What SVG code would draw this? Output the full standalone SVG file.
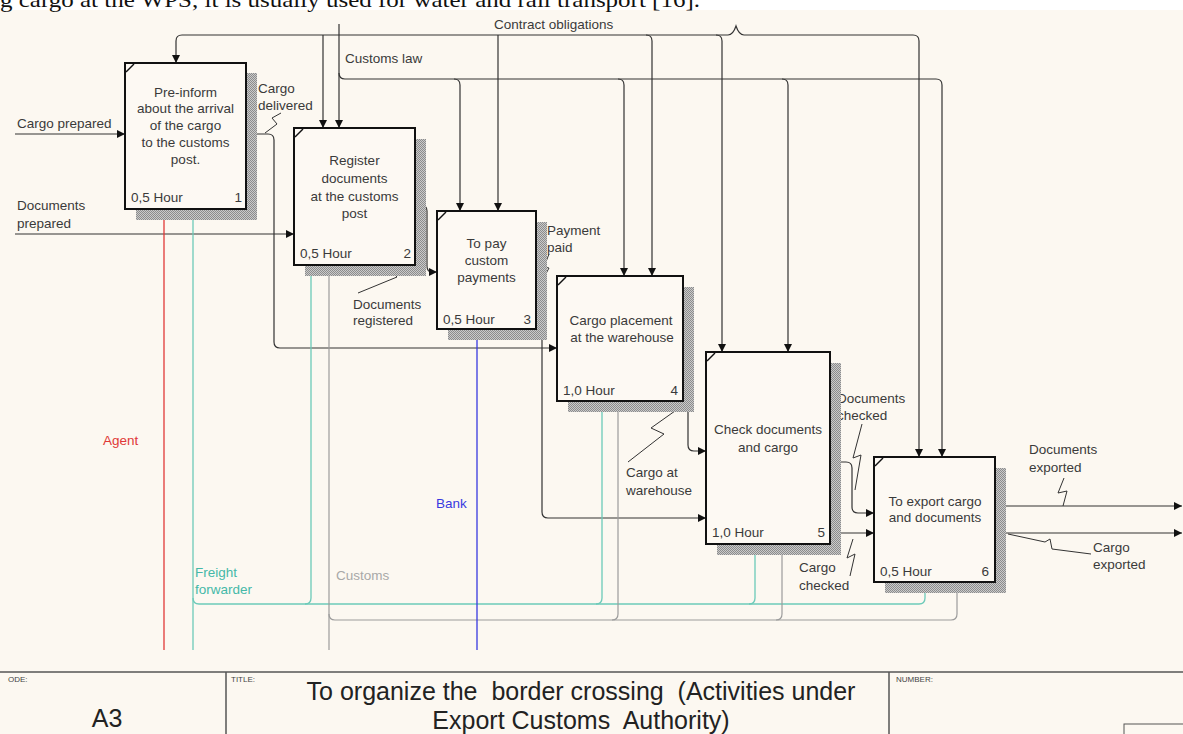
<svg xmlns="http://www.w3.org/2000/svg" width="1183" height="734" viewBox="0 0 1183 734">
<style>
.bg{fill:#fcf8f1}
.box{fill:#fdf9f3;stroke:#111;stroke-width:2}
.shadow{fill:url(#dots)}
.corner{stroke:#111;stroke-width:1.5;fill:none}
.bt{font-family:"Liberation Sans",Arial,sans-serif;font-size:13.5px;fill:#3a3a3a}
.lbl{font-family:"Liberation Sans",Arial,sans-serif;font-size:13.5px;fill:#3a3a3a}
.c{fill:none;stroke:#333;stroke-width:1.2}
.sq{fill:none;stroke:#333;stroke-width:1}
.red{fill:none;stroke:#e03838;stroke-width:1.3}
.teal{fill:none;stroke:#6ccab9;stroke-width:1.3}
.gray{fill:none;stroke:#9c9c9c;stroke-width:1.2}
.blue{fill:none;stroke:#3838e0;stroke-width:1.3}
.frame{fill:none;stroke:#555;stroke-width:1.5}
.small{font-family:"Liberation Sans",Arial,sans-serif;font-size:8px;fill:#444}
.title{font-family:"Liberation Sans",Arial,sans-serif;font-size:25px;fill:#222}
</style>
<defs>
<pattern id="dots" width="2" height="2" patternUnits="userSpaceOnUse">
<rect width="2" height="2" fill="#cacaca"/>
<rect width="1" height="1" fill="#8c8c8c"/>
<rect x="1" y="1" width="1" height="1" fill="#8c8c8c"/>
</pattern>
<marker id="ab" viewBox="0 0 10 10" refX="10" refY="5" markerWidth="9" markerHeight="8" markerUnits="userSpaceOnUse" orient="auto"><path d="M0,0 L10,5 L0,10 z" fill="#111"/></marker>
<marker id="ar" viewBox="0 0 10 10" refX="10" refY="5" markerWidth="9" markerHeight="8" markerUnits="userSpaceOnUse" orient="auto"><path d="M0,0 L10,5 L0,10 z" fill="#e02828"/></marker>
<marker id="at" viewBox="0 0 10 10" refX="10" refY="5" markerWidth="9" markerHeight="8" markerUnits="userSpaceOnUse" orient="auto"><path d="M0,0 L10,5 L0,10 z" fill="#3aaa9a"/></marker>
<marker id="ag" viewBox="0 0 10 10" refX="10" refY="5" markerWidth="9" markerHeight="8" markerUnits="userSpaceOnUse" orient="auto"><path d="M0,0 L10,5 L0,10 z" fill="#888"/></marker>
<marker id="abl" viewBox="0 0 10 10" refX="10" refY="5" markerWidth="9" markerHeight="8" markerUnits="userSpaceOnUse" orient="auto"><path d="M0,0 L10,5 L0,10 z" fill="#2828e0"/></marker>
</defs>

<rect x="0" y="0" width="1183" height="734" fill="#ffffff"/>
<rect class="bg" x="0" y="10" width="1183" height="724"/>
<text x="0" y="7" font-family="'Liberation Serif','Times New Roman',serif" font-size="21" fill="#111" textLength="700" lengthAdjust="spacingAndGlyphs">g cargo at the WPS, it is usually used for water and rail transport [16].</text>

<g id="connectors">
<path class="c" d="M728,35 Q733,35 736,26 Q739,35 744,35"/>
<path class="c" d="M728,35 L182,35 Q176,35 176,41 L176,63" marker-end="url(#ab)"/>
<path class="c" d="M744,35 L913,35 Q919,35 919,41 L919,457" marker-end="url(#ab)"/>
<path class="c" d="M323,35 L323,128" marker-end="url(#ab)"/>
<path class="c" d="M498,35 L498,211" marker-end="url(#ab)"/>
<path class="c" d="M646,35 Q652,35 652,41 L652,276" marker-end="url(#ab)"/>
<path class="c" d="M716,35 Q722,35 722,41 L722,352" marker-end="url(#ab)"/>
<path class="c" d="M339,24 L339,128" marker-end="url(#ab)"/>
<path class="c" d="M339,73 Q339,79 345,79 L936,79 Q942,79 942,85 L942,457" marker-end="url(#ab)"/>
<path class="c" d="M454,79 Q460,79 460,85 L460,211" marker-end="url(#ab)"/>
<path class="c" d="M618,79 Q624,79 624,85 L624,276" marker-end="url(#ab)"/>
<path class="c" d="M782,79 Q788,79 788,85 L788,352" marker-end="url(#ab)"/>
<path class="c" d="M15,134 L125,134" marker-end="url(#ab)"/>
<path class="c" d="M15,234 L294,234" marker-end="url(#ab)"/>
<path class="c" d="M246,134 L268,134 Q274,134 274,140 L274,342 Q274,348 280,348 L557,348" marker-end="url(#ab)"/>
<path class="sq" d="M281,113 L272,118 L277,124 L265,133"/>
<path class="c" d="M415,205 L421,205 Q427,205 427,211 L427,266 Q427,272 432,272 L437,272" marker-end="url(#ab)"/>
<path class="sq" d="M425,257 L390,270 L397,277 L358,293"/>
<path class="c" d="M536,282 L537,282 Q542,282 542,288 L542,512 Q542,518 548,518 L706,518" marker-end="url(#ab)"/>
<path class="sq" d="M549,254 L544,267 L549,268 L541,283"/>
<path class="c" d="M683,338 L683,338 Q688,338 688,344 L688,445 Q688,451 694,451 L706,451" marker-end="url(#ab)"/>
<path class="sq" d="M682,406 L651,428 L664,434 L628,462"/>
<path class="c" d="M830,462 L846,462 Q852,462 852,468 L852,507 Q852,513 858,513 L874,513" marker-end="url(#ab)"/>
<path class="c" d="M830,533 L874,533" marker-end="url(#ab)"/>
<path class="sq" d="M862,424 L853,458 L861,455 L855,490"/>
<path class="sq" d="M853,539 L847,558 L855,554 L850,576"/>
<path class="c" d="M995,506 L1182,506" marker-end="url(#ab)"/>
<path class="c" d="M995,533 L1182,533" marker-end="url(#ab)"/>
<path class="sq" d="M1064,478 L1058,493 L1067,491 L1063,506"/>
<path class="sq" d="M1008,534 L1045,542 L1050,539 L1052,549 L1091,554"/>
<path class="red" d="M164,650 L164,209" marker-end="url(#ar)"/>
<path class="teal" d="M193,650 L193,209" marker-end="url(#at)"/>
<path class="teal" d="M193,598 Q193,604 199,604 L919,604 Q925,604 925,598 L925,582" marker-end="url(#at)"/>
<path class="teal" d="M305,604 Q311,604 311,598 L311,265" marker-end="url(#at)"/>
<path class="teal" d="M596,604 Q602,604 602,598 L602,401" marker-end="url(#at)"/>
<path class="teal" d="M749,604 Q755,604 755,598 L755,544" marker-end="url(#at)"/>
<path class="gray" d="M329,650 L329,265" marker-end="url(#ag)"/>
<path class="gray" d="M329,614 Q329,620 335,620 L951,620 Q957,620 957,614 L957,582" marker-end="url(#ag)"/>
<path class="gray" d="M612,620 Q618,620 618,614 L618,401" marker-end="url(#ag)"/>
<path class="gray" d="M776,620 Q782,620 782,614 L782,544" marker-end="url(#ag)"/>
<path class="blue" d="M477,650 L477,329" marker-end="url(#abl)"/>
</g>

<g id="labels">
<text class="lbl" x="494" y="29">Contract obligations</text>
<text class="lbl" x="345" y="63">Customs law</text>
<text class="lbl" x="17" y="128">Cargo prepared</text>
<text class="lbl" x="17" y="210">Documents</text>
<text class="lbl" x="17" y="228">prepared</text>
<text class="lbl" x="258" y="93">Cargo</text>
<text class="lbl" x="258" y="110">delivered</text>
<text class="lbl" x="353" y="309">Documents</text>
<text class="lbl" x="353" y="325">registered</text>
<text class="lbl" x="547" y="235">Payment</text>
<text class="lbl" x="547" y="252">paid</text>
<text class="lbl" x="626" y="477">Cargo at</text>
<text class="lbl" x="626" y="495">warehouse</text>
<text class="lbl" x="837" y="403">Documents</text>
<text class="lbl" x="837" y="420">checked</text>
<text class="lbl" x="799" y="572">Cargo</text>
<text class="lbl" x="799" y="590">checked</text>
<text class="lbl" x="1029" y="454">Documents</text>
<text class="lbl" x="1029" y="472">exported</text>
<text class="lbl" x="1093" y="552">Cargo</text>
<text class="lbl" x="1093" y="569">exported</text>
<text class="lbl" x="103" y="445" style="fill:#e03838">Agent</text>
<text class="lbl" x="195" y="577" style="fill:#45b8a8">Freight</text>
<text class="lbl" x="195" y="594" style="fill:#45b8a8">forwarder</text>
<text class="lbl" x="336" y="580" style="fill:#a8a8a8">Customs</text>
<text class="lbl" x="436" y="508" style="fill:#3838e0">Bank</text>
</g>

<g id="node1">
<path class="shadow" d="M246,73 H257 V220 H136 V209 H246 Z"/>
<rect class="box" x="125" y="63" width="121" height="146"/>
<path class="corner" d="M126,72 L134,64"/>
<text class="bt" text-anchor="middle"><tspan x="185.5" y="97">Pre-inform</tspan><tspan x="185.5" y="113">about the arrival</tspan><tspan x="185.5" y="130">of the cargo</tspan><tspan x="185.5" y="147">to the customs</tspan><tspan x="185.5" y="164">post.</tspan></text>
<text class="bt" x="131" y="202">0,5 Hour</text>
<text class="bt" x="242" y="202" text-anchor="end">1</text>
</g>

<g id="node2">
<path class="shadow" d="M415,139 H426 V276 H305 V265 H415 Z"/>
<rect class="box" x="294" y="128" width="121" height="137"/>
<path class="corner" d="M295,137 L303,129"/>
<text class="bt" text-anchor="middle"><tspan x="354.5" y="165">Register</tspan><tspan x="354.5" y="183">documents</tspan><tspan x="354.5" y="201">at the customs</tspan><tspan x="354.5" y="218">post</tspan></text>
<text class="bt" x="300" y="258">0,5 Hour</text>
<text class="bt" x="411" y="258" text-anchor="end">2</text>
</g>

<g id="node3">
<path class="shadow" d="M536,222 H547 V340 H448 V329 H536 Z"/>
<rect class="box" x="437" y="211" width="99" height="118"/>
<path class="corner" d="M438,220 L446,212"/>
<text class="bt" text-anchor="middle"><tspan x="486.5" y="248">To pay</tspan><tspan x="486.5" y="265">custom</tspan><tspan x="486.5" y="282">payments</tspan></text>
<text class="bt" x="443" y="324">0,5 Hour</text>
<text class="bt" x="531" y="324" text-anchor="end">3</text>
</g>

<g id="node4">
<path class="shadow" d="M683,287 H694 V412 H568 V401 H683 Z"/>
<rect class="box" x="557" y="276" width="126" height="125"/>
<path class="corner" d="M558,285 L566,277"/>
<text class="bt" text-anchor="middle"><tspan x="621" y="325">Cargo placement</tspan><tspan x="622" y="342">at the warehouse</tspan></text>
<text class="bt" x="563" y="395">1,0 Hour</text>
<text class="bt" x="678" y="395" text-anchor="end">4</text>
</g>

<g id="node5">
<path class="shadow" d="M830,363 H841 V555 H717 V544 H830 Z"/>
<rect class="box" x="706" y="352" width="124" height="192"/>
<path class="corner" d="M707,361 L715,353"/>
<text class="bt" text-anchor="middle"><tspan x="768" y="434">Check documents</tspan><tspan x="768" y="452">and cargo</tspan></text>
<text class="bt" x="712" y="537">1,0 Hour</text>
<text class="bt" x="825" y="537" text-anchor="end">5</text>
</g>

<g id="node6">
<path class="shadow" d="M995,468 H1006 V593 H885 V582 H995 Z"/>
<rect class="box" x="874" y="457" width="121" height="125"/>
<path class="corner" d="M875,466 L883,458"/>
<text class="bt" text-anchor="middle"><tspan x="935" y="506">To export cargo</tspan><tspan x="935" y="522">and documents</tspan></text>
<text class="bt" x="880" y="576">0,5 Hour</text>
<text class="bt" x="989" y="576" text-anchor="end">6</text>
</g>

<g id="frame">
<path class="frame" d="M0,672 L1183,672 M226,672 L226,734 M889,672 L889,734"/>
<rect x="1124" y="724" width="70" height="20" fill="none" stroke="#555" stroke-width="1"/>
<text class="small" x="8" y="682">ODE:</text>
<text class="small" x="231" y="682">TITLE:</text>
<text class="small" x="896" y="682">NUMBER:</text>
<text class="title" x="107" y="727" text-anchor="middle" font-size="24">A3</text>
<text class="title" text-anchor="middle" xml:space="preserve" x="581" y="700">To organize the  border crossing  (Activities under</text>
<text class="title" text-anchor="middle" xml:space="preserve" x="581" y="729">Export Customs  Authority)</text>
</g>
</svg>
